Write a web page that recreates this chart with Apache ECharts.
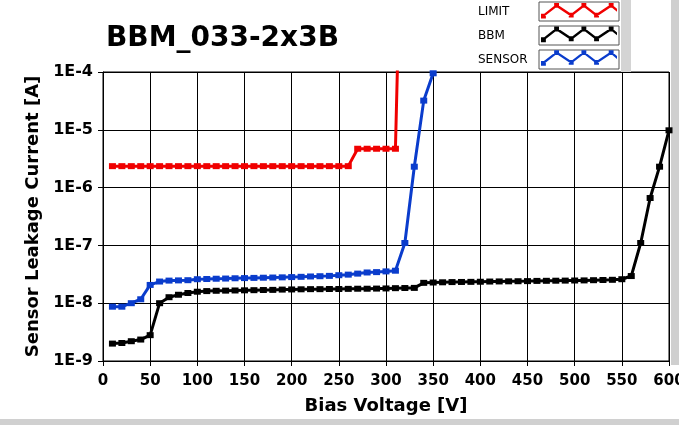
<!DOCTYPE html>
<html>
<head>
<meta charset="utf-8">
<script src="https://cdn.jsdelivr.net/npm/echarts@6/dist/echarts.min.js"></script>
<style>
html,body{margin:0;padding:0;background:#fff;}
#chart{width:679px;height:425px;}
</style>
</head>
<body>
<div id="chart"></div>
<script>
const chartTitle = 'BBM_033-2x3B';
const xAxisName = 'Bias Voltage [V]';
const yAxisName = 'Sensor Leakage Current [A]';
const seriesNames = ['LIMIT', 'BBM', 'SENSOR'];

const limitV = [10,20,30,40,50,60,70,80,90,100,110,120,130,140,150,160,170,180,190,200,210,220,230,240,250,260,270,280,290,300,310,320];
const limitI = [2.35e-6,2.35e-6,2.35e-6,2.35e-6,2.35e-6,2.35e-6,2.35e-6,2.35e-6,2.35e-6,2.35e-6,2.35e-6,2.35e-6,2.35e-6,2.35e-6,2.35e-6,2.35e-6,2.35e-6,2.35e-6,2.35e-6,2.35e-6,2.35e-6,2.35e-6,2.35e-6,2.35e-6,2.35e-6,2.35e-6,4.7e-6,4.7e-6,4.7e-6,4.7e-6,4.7e-6,20];

const bbmV = [10,20,30,40,50,60,70,80,90,100,110,120,130,140,150,160,170,180,190,200,210,220,230,240,250,260,270,280,290,300,310,320,330,340,350,360,370,380,390,400,410,420,430,440,450,460,470,480,490,500,510,520,530,540,550,560,570,580,590,600];
const bbmI = [2.0e-9,2.05e-9,2.2e-9,2.35e-9,2.8e-9,1.0e-8,1.27e-8,1.4e-8,1.5e-8,1.58e-8,1.62e-8,1.64e-8,1.65e-8,1.66e-8,1.67e-8,1.68e-8,1.69e-8,1.7e-8,1.72e-8,1.73e-8,1.74e-8,1.75e-8,1.75e-8,1.76e-8,1.76e-8,1.77e-8,1.78e-8,1.78e-8,1.79e-8,1.8e-8,1.82e-8,1.83e-8,1.84e-8,2.25e-8,2.28e-8,2.3e-8,2.32e-8,2.33e-8,2.34e-8,2.35e-8,2.37e-8,2.38e-8,2.39e-8,2.4e-8,2.41e-8,2.43e-8,2.44e-8,2.45e-8,2.46e-8,2.47e-8,2.48e-8,2.5e-8,2.52e-8,2.54e-8,2.6e-8,2.95e-8,1.1e-7,6.6e-7,2.3e-6,9.8e-6];

const sensorV = [10,20,30,40,50,60,70,80,90,100,110,120,130,140,150,160,170,180,190,200,210,220,230,240,250,260,270,280,290,300,310,320,330,340,350];
const sensorI = [8.7e-9,8.7e-9,1.0e-8,1.17e-8,2.07e-8,2.37e-8,2.46e-8,2.48e-8,2.5e-8,2.6e-8,2.62e-8,2.65e-8,2.67e-8,2.7e-8,2.72e-8,2.74e-8,2.76e-8,2.78e-8,2.8e-8,2.83e-8,2.86e-8,2.9e-8,2.93e-8,2.97e-8,3.05e-8,3.12e-8,3.25e-8,3.4e-8,3.45e-8,3.55e-8,3.65e-8,1.1e-7,2.3e-6,3.2e-5,9.5e-5];

const seriesColors = ['#f00000', '#000000', '#0a3ccc'];

function pairs(xs, ys) { return xs.map((x, i) => [x, ys[i]]); }

const zigIcon = 'path://M2,13 L16,2 L31,12 L44,2 L57,12 L72,2 L78,7 L78,10 L72,5 L57,15 L44,5 L31,15 L16,5 L2,16 Z ' +
  'M0,12 L5,12 L5,17 L0,17 Z M13.5,1 L18.5,1 L18.5,6 L13.5,6 Z M28.5,11 L33.5,11 L33.5,16 L28.5,16 Z ' +
  'M41.5,1 L46.5,1 L46.5,6 L41.5,6 Z M54.5,11 L59.5,11 L59.5,16 L54.5,16 Z M69.5,1 L74.5,1 L74.5,6 L69.5,6 Z';

const chart = echarts.init(document.getElementById('chart'), null, {renderer: 'canvas'});

function mkSeries(name, xs, ys, color) {
  return {
    name: name,
    type: 'line',
    data: pairs(xs, ys),
    symbol: 'rect',
    symbolSize: [7, 6],
    showSymbol: true,
    showAllSymbol: true,
    lineStyle: {color: color, width: 3},
    itemStyle: {color: color},
    animation: false,
    clip: true,
    z: 3
  };
}

const option = {
  backgroundColor: '#ffffff',
  animation: false,
  title: {
    text: chartTitle,
    left: 106,
    top: 25,
    padding: 0,
    textStyle: {fontFamily: 'DejaVu Sans', fontWeight: 'bold', fontSize: 28, color: '#000'}
  },
  legend: {
    orient: 'vertical',
    left: 478,
    top: 3,
    padding: 0,
    align: 'right',
    itemWidth: 76,
    itemHeight: 16,
    itemGap: 8,
    icon: zigIcon,
    selectedMode: false,
    itemStyle: {borderWidth: 0},
    data: seriesNames,
    formatter: function (n) { return '{a|' + n + '}'; },
    textStyle: {
      color: '#000',
      rich: {a: {width: 58, align: 'left', fontFamily: 'DejaVu Sans', fontSize: 12, color: '#000', padding: [3, 0, 0, 0]}}
    },
    z: 5
  },
  grid: {
    left: 103, right: 10, top: 72, bottom: 64,
    show: true, borderColor: '#000', borderWidth: 1,
    containLabel: false,
    outerBoundsMode: 'none'
  },
  xAxis: {
    type: 'value',
    min: 0, max: 600, interval: 50,
    name: xAxisName,
    nameLocation: 'middle',
    nameGap: 36,
    nameTextStyle: {fontFamily: 'DejaVu Sans', fontWeight: 'bold', fontSize: 18, color: '#000'},
    axisLine: {show: true, lineStyle: {color: '#000', width: 1}},
    axisTick: {show: true, length: 5, lineStyle: {color: '#000'}},
    axisLabel: {fontFamily: 'DejaVu Sans', fontWeight: 'bold', fontSize: 15, color: '#000', margin: 13, showMaxLabel: true, hideOverlap: false},
    splitLine: {show: true, lineStyle: {color: '#000', width: 1}}
  },
  yAxis: {
    type: 'log',
    logBase: 10,
    min: 1e-9, max: 1e-4,
    name: yAxisName,
    nameLocation: 'middle',
    nameGap: 61,
    nameTextStyle: {fontFamily: 'DejaVu Sans', fontWeight: 'bold', fontSize: 18, color: '#000'},
    axisLine: {show: true, lineStyle: {color: '#000', width: 1}},
    axisTick: {show: true, length: 5, lineStyle: {color: '#000'}},
    axisLabel: {
      fontFamily: 'DejaVu Sans', fontWeight: 'bold', fontSize: 16, color: '#000', margin: 10,
      formatter: function (v) { return '1E' + Math.round(Math.log10(v)); }
    },
    splitLine: {show: true, lineStyle: {color: '#000', width: 1}},
    minorTick: {show: false},
    minorSplitLine: {show: false}
  },
  graphic: [
    {type: 'rect', shape: {x: 539, y: 2, width: 80, height: 19}, style: {fill: '#fff', stroke: '#555', lineWidth: 1}, z: 1},
    {type: 'rect', shape: {x: 539, y: 26, width: 80, height: 19}, style: {fill: '#fff', stroke: '#555', lineWidth: 1}, z: 1},
    {type: 'rect', shape: {x: 539, y: 50, width: 80, height: 19}, style: {fill: '#fff', stroke: '#555', lineWidth: 1}, z: 1},
    {type: 'rect', shape: {x: 621, y: 0, width: 10, height: 72}, style: {fill: '#d4d4d4'}, z: 0},
    {type: 'rect', shape: {x: 671, y: 0, width: 8, height: 365}, style: {fill: '#cfcfcf'}, z: 0},
    {type: 'rect', shape: {x: 0, y: 419, width: 679, height: 6}, style: {fill: '#d0d0d0'}, z: 0}
  ],
  series: [
    mkSeries(seriesNames[0], limitV, limitI, seriesColors[0]),
    mkSeries(seriesNames[1], bbmV, bbmI, seriesColors[1]),
    mkSeries(seriesNames[2], sensorV, sensorI, seriesColors[2])
  ]
};
chart.setOption(option);
</script>
</body>
</html>
